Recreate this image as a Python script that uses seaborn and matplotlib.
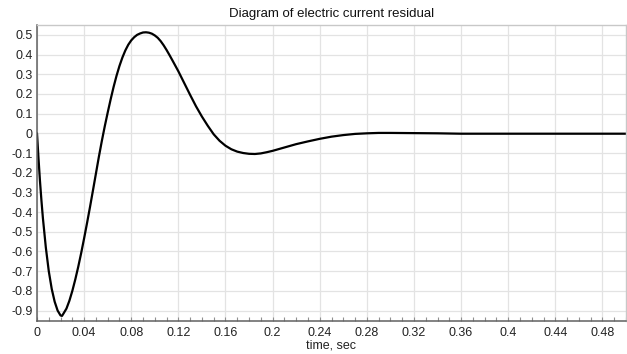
import matplotlib
matplotlib.use("Agg")
import matplotlib.pyplot as plt
from matplotlib.ticker import MultipleLocator, FuncFormatter
import seaborn as sns
import pandas as pd

time_sec = [0.000, 0.00125, 0.0025, 0.00375, 0.005, 0.0075, 0.010, 0.0125, 0.015, 0.0175,
            0.020, 0.02125, 0.0225, 0.025, 0.0275, 0.030, 0.0325, 0.035, 0.0375, 0.040,
            0.0425, 0.045, 0.0475, 0.050, 0.0525, 0.055, 0.0575, 0.060, 0.0625, 0.065,
            0.0675, 0.070, 0.0725, 0.075, 0.0775, 0.080, 0.0825, 0.085, 0.0875, 0.090,
            0.0925, 0.095, 0.0975, 0.100, 0.1025, 0.105, 0.1075, 0.110, 0.1125, 0.115,
            0.120, 0.125, 0.130, 0.135, 0.140, 0.145, 0.150, 0.155, 0.160, 0.165,
            0.170, 0.175, 0.180, 0.185, 0.190, 0.195, 0.200, 0.210, 0.220, 0.230,
            0.240, 0.250, 0.260, 0.270, 0.280, 0.290, 0.300, 0.320, 0.340, 0.360,
            0.400, 0.450, 0.500]
current_residual = [0.000, -0.125, -0.24, -0.34, -0.43, -0.58, -0.70, -0.79, -0.855, -0.90,
                    -0.925, -0.927, -0.915, -0.89, -0.85, -0.80, -0.742, -0.678, -0.608, -0.533,
                    -0.455, -0.374, -0.29, -0.205, -0.12, -0.04, 0.035, 0.105, 0.172, 0.235,
                    0.292, 0.342, 0.385, 0.421, 0.45, 0.472, 0.488, 0.50, 0.507, 0.512,
                    0.513, 0.511, 0.506, 0.497, 0.485, 0.468, 0.447, 0.423, 0.397, 0.37,
                    0.315, 0.255, 0.195, 0.137, 0.085, 0.038, -0.005, -0.038, -0.063, -0.081,
                    -0.093, -0.100, -0.104, -0.105, -0.102, -0.096, -0.089, -0.072, -0.055, -0.041,
                    -0.028, -0.017, -0.009, -0.003, 0.000, 0.002, 0.002, 0.001, 0.0, -0.002,
                    -0.002, -0.002, -0.002]

x_ticks = [0, 0.04, 0.08, 0.12, 0.16, 0.2, 0.24, 0.28, 0.32, 0.36, 0.4, 0.44, 0.48]
y_ticks = [-0.9, -0.8, -0.7, -0.6, -0.5, -0.4, -0.3, -0.2, -0.1, 0, 0.1, 0.2, 0.3, 0.4, 0.5]

title = "Diagram of electric current residual"
x_label = "time, sec"

sns.set_theme(style="whitegrid")
plt.rcParams["font.family"] = ["Liberation Sans", "DejaVu Sans"]
plt.rcParams["axes.unicode_minus"] = False

df = pd.DataFrame({"t": time_sec, "i": current_residual})

fig = plt.figure(figsize=(6.27, 3.54), dpi=100)
ax = fig.add_axes([37 / 627, 1 - 321 / 354, (626 - 37) / 627, (321 - 25) / 354])

sns.lineplot(data=df, x="t", y="i", ax=ax, color="black", linewidth=1.6, sort=False)
ax.lines[0].set_solid_joinstyle("round")

ax.set_xlim(0, 0.5)
ax.set_ylim(-0.953, 0.55)
ax.set_xticks(x_ticks)
ax.set_yticks(y_ticks)
ax.xaxis.set_minor_locator(MultipleLocator(0.01))


def fmt(v, pos=None):
    if abs(v) < 1e-9:
        return "0"
    return f"{v:g}"


ax.xaxis.set_major_formatter(FuncFormatter(fmt))
ax.yaxis.set_major_formatter(FuncFormatter(fmt))

ax.grid(True, which="major", color="#e3e3e3", linewidth=0.9)
ax.set_axisbelow(True)
ax.set_facecolor("white")

for side in ["top", "right"]:
    ax.spines[side].set_color("#c8c8c8")
    ax.spines[side].set_linewidth(1.0)
for side in ["left", "bottom"]:
    ax.spines[side].set_color("#606060")
    ax.spines[side].set_linewidth(1.1)

ax.tick_params(axis="both", which="major", labelsize=9, colors="#222222", length=0, pad=4)
ax.tick_params(axis="y", pad=3)
ax.tick_params(axis="x", which="minor", direction="in", length=3, color="#909090", width=0.8, bottom=True)
ax.tick_params(axis="x", which="major", direction="in", length=3, color="#909090", width=0.8, bottom=True)

ax.set_title(title, fontsize=9.5, color="#111111", pad=6)
ax.set_xlabel(x_label, fontsize=9, color="#222222", labelpad=1)
ax.set_ylabel("")

fig.savefig("out.png", dpi=100, facecolor="white")
